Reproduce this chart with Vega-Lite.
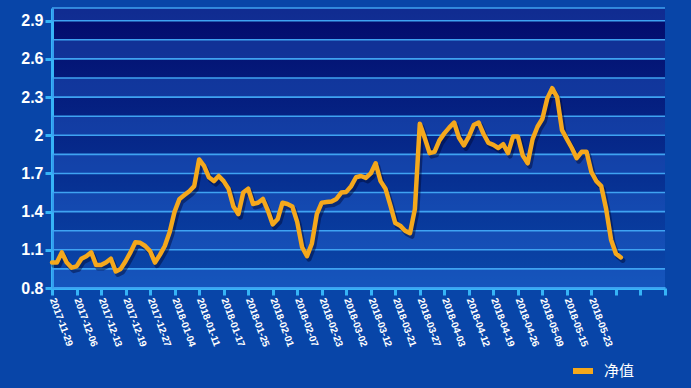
{
  "$schema": "https://vega.github.io/schema/vega-lite/v6.json",
  "width": 613,
  "height": 280,
  "autosize": {"type": "none"},
  "padding": {"left": 52, "top": 8, "right": 26, "bottom": 100},
  "background": "#0845a8",
  "config": {
    "view": {
      "stroke": null,
      "fill": {"gradient": "linear", "x1": 0, "y1": 0, "x2": 0, "y2": 1,
        "stops": [{"offset": 0, "color": "#020a6a"}, {"offset": 1, "color": "#0a48ab"}]}
    }
  },
  "datasets": {
    "bands": [
      {"lo": 0.8, "hi": 0.95}, {"lo": 1.1, "hi": 1.25}, {"lo": 1.4, "hi": 1.55},
      {"lo": 1.7, "hi": 1.85}, {"lo": 2.0, "hi": 2.15}, {"lo": 2.3, "hi": 2.45},
      {"lo": 2.6, "hi": 2.75}, {"lo": 2.9, "hi": 3.0}
    ],
    "nav": [
      {"i":0,"date":"2017-11-29","v":1.00},{"i":1,"v":1.00},{"i":2,"v":1.08},{"i":3,"v":1.00},{"i":4,"v":0.96},
      {"i":5,"date":"2017-12-06","v":0.97},{"i":6,"v":1.03},{"i":7,"v":1.05},{"i":8,"v":1.08},{"i":9,"v":0.98},
      {"i":10,"date":"2017-12-13","v":0.98},{"i":11,"v":1.00},{"i":12,"v":1.03},{"i":13,"v":0.93},{"i":14,"v":0.95},
      {"i":15,"date":"2017-12-19","v":1.01},{"i":16,"v":1.08},{"i":17,"v":1.16},{"i":18,"v":1.155},{"i":19,"v":1.13},
      {"i":20,"date":"2017-12-27","v":1.09},{"i":21,"v":1.00},{"i":22,"v":1.06},{"i":23,"v":1.13},{"i":24,"v":1.24},
      {"i":25,"date":"2018-01-04","v":1.40},{"i":26,"v":1.50},{"i":27,"v":1.53},{"i":28,"v":1.56},{"i":29,"v":1.60},
      {"i":30,"date":"2018-01-11","v":1.81},{"i":31,"v":1.76},{"i":32,"v":1.67},{"i":33,"v":1.64},{"i":34,"v":1.68},
      {"i":35,"date":"2018-01-17","v":1.64},{"i":36,"v":1.58},{"i":37,"v":1.44},{"i":38,"v":1.38},{"i":39,"v":1.55},
      {"i":40,"date":"2018-01-25","v":1.58},{"i":41,"v":1.46},{"i":42,"v":1.47},{"i":43,"v":1.50},{"i":44,"v":1.41},
      {"i":45,"date":"2018-02-01","v":1.30},{"i":46,"v":1.34},{"i":47,"v":1.47},{"i":48,"v":1.46},{"i":49,"v":1.44},
      {"i":50,"date":"2018-02-07","v":1.32},{"i":51,"v":1.12},{"i":52,"v":1.05},{"i":53,"v":1.15},{"i":54,"v":1.38},
      {"i":55,"date":"2018-02-23","v":1.47},{"i":56,"v":1.475},{"i":57,"v":1.48},{"i":58,"v":1.50},{"i":59,"v":1.55},
      {"i":60,"date":"2018-03-02","v":1.555},{"i":61,"v":1.60},{"i":62,"v":1.67},{"i":63,"v":1.68},{"i":64,"v":1.665},
      {"i":65,"date":"2018-03-12","v":1.70},{"i":66,"v":1.78},{"i":67,"v":1.64},{"i":68,"v":1.58},{"i":69,"v":1.45},
      {"i":70,"date":"2018-03-21","v":1.31},{"i":71,"v":1.29},{"i":72,"v":1.25},{"i":73,"v":1.23},{"i":74,"v":1.42},
      {"i":75,"date":"2018-03-27","v":2.09},{"i":76,"v":1.98},{"i":77,"v":1.86},{"i":78,"v":1.87},{"i":79,"v":1.96},
      {"i":80,"date":"2018-04-03","v":2.015},{"i":81,"v":2.06},{"i":82,"v":2.10},{"i":83,"v":1.98},{"i":84,"v":1.92},
      {"i":85,"date":"2018-04-12","v":1.99},{"i":86,"v":2.08},{"i":87,"v":2.10},{"i":88,"v":2.01},{"i":89,"v":1.94},
      {"i":90,"date":"2018-04-19","v":1.925},{"i":91,"v":1.90},{"i":92,"v":1.93},{"i":93,"v":1.86},{"i":94,"v":1.99},
      {"i":95,"date":"2018-04-26","v":1.99},{"i":96,"v":1.84},{"i":97,"v":1.78},{"i":98,"v":1.97},{"i":99,"v":2.067},
      {"i":100,"date":"2018-05-09","v":2.13},{"i":101,"v":2.29},{"i":102,"v":2.37},{"i":103,"v":2.30},{"i":104,"v":2.04},
      {"i":105,"date":"2018-05-15","v":1.97},{"i":106,"v":1.90},{"i":107,"v":1.82},{"i":108,"v":1.87},{"i":109,"v":1.87},
      {"i":110,"date":"2018-05-23","v":1.71},{"i":111,"v":1.64},{"i":112,"v":1.60},{"i":113,"v":1.42},{"i":114,"v":1.18},
      {"i":115,"v":1.07},{"i":116,"v":1.04}
    ]
  },
  "layer": [
    {
      "data": {"name": "bands"},
      "mark": {"type": "rect", "fill": "#2f6fe0", "opacity": 0.33},
      "encoding": {
        "y": {"field": "lo", "type": "quantitative", "scale": {"domain": [0.8, 3.0], "nice": false, "zero": false}},
        "y2": {"field": "hi"}
      }
    },
    {
      "data": {"name": "bands"},
      "mark": {"type": "rule", "stroke": "#3fa3f2", "strokeWidth": 1.6},
      "encoding": {"y": {"field": "lo", "type": "quantitative"}}
    },
    {
      "data": {"name": "bands"},
      "mark": {"type": "rule", "stroke": "#3fa3f2", "strokeWidth": 1.6},
      "encoding": {"y": {"field": "hi", "type": "quantitative"}}
    },
    {
      "data": {"name": "nav"},
      "mark": {"type": "line", "stroke": "#00062e", "opacity": 0.45, "strokeWidth": 5, "strokeJoin": "round", "strokeCap": "round", "xOffset": 2, "yOffset": 3},
      "encoding": {
        "x": {"field": "i", "type": "quantitative"},
        "y": {"field": "v", "type": "quantitative"}
      }
    },
    {
      "data": {"name": "nav"},
      "mark": {"type": "line", "strokeWidth": 4.5, "strokeJoin": "round", "strokeCap": "round"},
      "encoding": {
        "x": {
          "field": "i", "type": "quantitative",
          "scale": {"domain": [0, 125], "nice": false, "zero": false},
          "axis": {
            "title": null,
            "grid": false,
            "tickCount": 60,
            "values": [0,5,10,15,20,25,30,35,40,45,50,55,60,65,70,75,80,85,90,95,100,105,110,115,120,125],
            "labelExpr": "datum.value <= 110 ? ['2017-11-29','2017-12-06','2017-12-13','2017-12-19','2017-12-27','2018-01-04','2018-01-11','2018-01-17','2018-01-25','2018-02-01','2018-02-07','2018-02-23','2018-03-02','2018-03-12','2018-03-21','2018-03-27','2018-04-03','2018-04-12','2018-04-19','2018-04-26','2018-05-09','2018-05-15','2018-05-23'][round(datum.value / 5)] : ''",
            "labelAngle": 70,
            "labelAlign": "left",
            "labelBaseline": "middle",
            "labelPadding": 3,
            "labelFont": "Liberation Sans",
            "labelFontWeight": "bold",
            "labelFontSize": 10,
            "labelColor": "#ffffff",
            "labelOverlap": false,
            "labelBound": false,
            "labelFlush": false,
            "domainColor": "#36b4f7",
            "domainWidth": 3,
            "tickColor": "#36b4f7",
            "tickWidth": 3,
            "tickSize": 7
          }
        },
        "y": {
          "field": "v", "type": "quantitative",
          "scale": {"domain": [0.8, 3.0], "nice": false, "zero": false},
          "axis": {
            "title": null,
            "grid": false,
            "tickCount": 30,
            "values": [0.8, 1.1, 1.4, 1.7, 2.0, 2.3, 2.6, 2.9],
            "format": "~g",
            "labelFont": "Liberation Sans",
            "labelFontWeight": "bold",
            "labelFontSize": 16,
            "labelColor": "#ffffff",
            "labelPadding": 2,
            "labelOverlap": false,
            "labelFlush": false,
            "domainColor": "#36b4f7",
            "domainWidth": 3,
            "tickColor": "#36b4f7",
            "tickWidth": 3,
            "tickSize": 7
          }
        },
        "color": {
          "datum": "净值",
          "type": "nominal",
          "scale": {"range": ["#f5a81c"]},
          "legend": {
            "title": null,
            "orient": "none",
            "legendX": 518,
            "legendY": 350,
            "symbolType": "stroke",
            "symbolStrokeWidth": 6,
            "symbolSize": 400,
            "labelFont": "Noto Sans CJK SC",
            "labelFontSize": 15,
            "labelColor": "#ffffff",
            "labelOffset": 8
          }
        }
      }
    }
  ]
}
